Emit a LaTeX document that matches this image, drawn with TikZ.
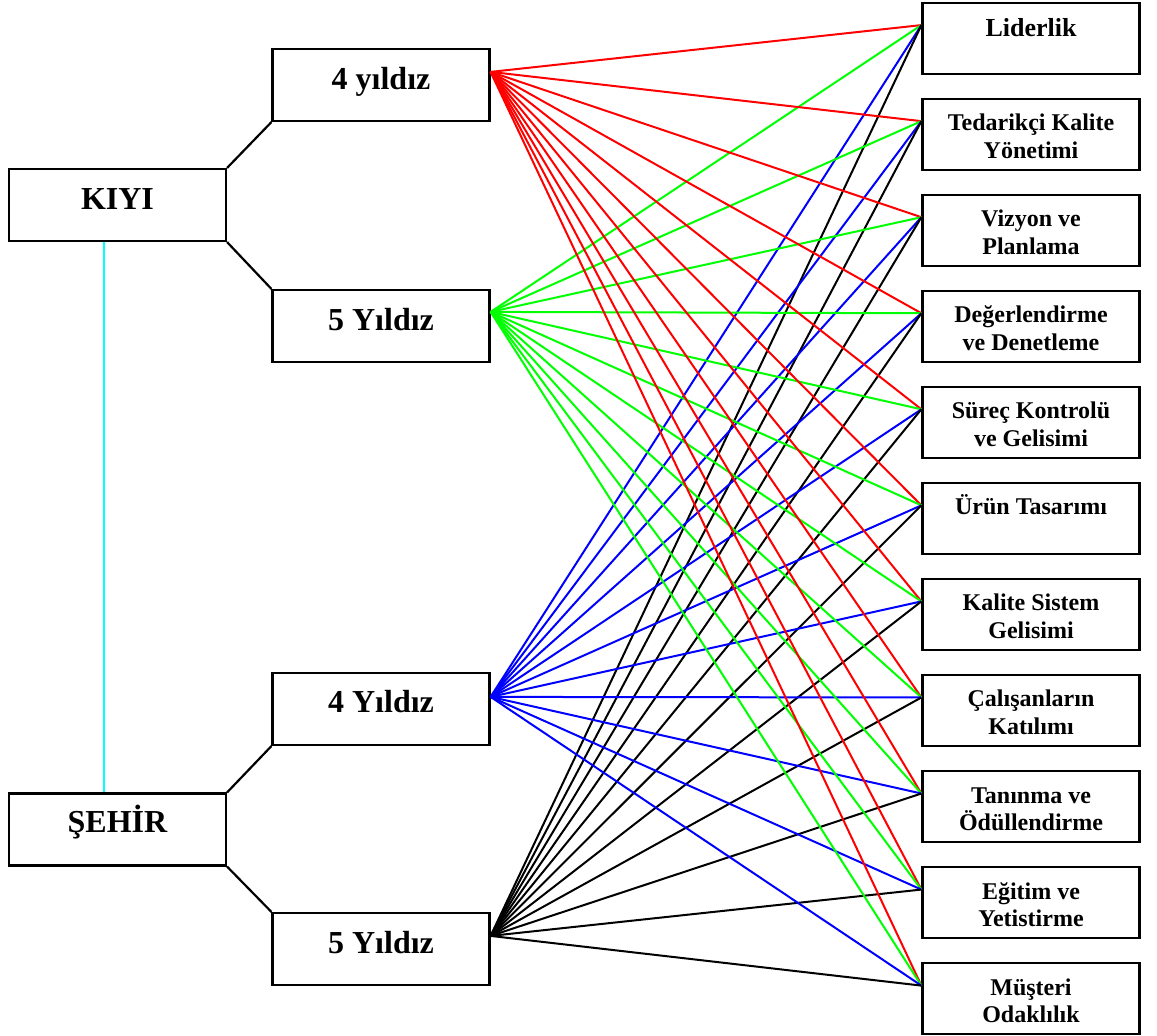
\documentclass[tikz,border=0pt]{standalone}
\usepackage{fontspec}
\setmainfont{Liberation Serif}
\usetikzlibrary{calc}
\begin{document}
\begin{tikzpicture}[x=1pt,y=-1pt,
  box/.style={draw, line width=2.2pt, fill=white, inner sep=0pt,
              minimum width=217pt, minimum height=72pt},
  rbox/.style={box, minimum height=71pt},
  big/.style={anchor=base, inner sep=0pt, font=\fontsize{32}{36}\selectfont\bfseries},
  mid/.style={anchor=base, inner sep=0pt, font=\fontsize{26}{30}\selectfont\bfseries},
  small/.style={anchor=base, inner sep=0pt, font=\fontsize{24}{28}\selectfont\bfseries},
  tie/.style={line width=2.2pt, black},
  link/.style={line width=2pt}]
\useasboundingbox (0,0) rectangle (1157,1036);

% colours of the four fans
\definecolor{fanred}{RGB}{255,0,0}
\definecolor{fangreen}{RGB}{0,255,0}
\definecolor{fanblue}{RGB}{0,0,255}
\definecolor{linkcyan}{RGB}{0,255,255}

% left column
\node[box] (kiyi)  at (117.5,205)   {};
\node[box] (sehir) at (117.5,829.5) {};

% middle column
\node[box] (m1) at (381,85)  {};
\node[box] (m2) at (381,326) {};
\node[box] (m3) at (381,709) {};
\node[box] (m4) at (381,949) {};

% right column
\foreach \i in {0,...,10}{
  \node[rbox] (r\i) at (1031,{38.2+96.05*\i}) {};
  \coordinate (ri\i) at ($(r\i.north west)+(0,23.5)$);
}

% fan start points
\coordinate (o1) at ($(m1.north east)+(0,24)$);
\coordinate (o2) at ($(m2.north east)+(0,23)$);
\coordinate (o3) at ($(m3.north east)+(0,25)$);
\coordinate (o4) at ($(m4.north east)+(0,24)$);

% tree connectors
\draw[tie] (kiyi.north east) -- (m1.south west);
\draw[tie] (kiyi.south east) -- (m2.north west);
\draw[tie] (sehir.north east) -- (m3.south west);
\draw[tie] (sehir.south east) -- (m4.north west);
\coordinate (c1) at ($(kiyi.south west)+(96,0)$);
\coordinate (c2) at ($(sehir.north west)+(96,0)$);
\draw[line width=2pt, linkcyan] (c1) -- (c2);

% fans
\foreach \i in {0,...,10}{
  \draw[link, fanred]   (o1) -- (ri\i);
  \draw[link, fangreen] (o2) -- (ri\i);
  \draw[link, fanblue]  (o3) -- (ri\i);
  \draw[link, black]    (o4) -- (ri\i);
}

% labels, left and middle
\node[big] (tk) at ($(kiyi.north)+(0,41.5)$)  {KIYI};
\node[big] (ts) at ($(sehir.north)+(0,40.5)$) {ŞEHİR};
\node[big] (t1) at ($(m1.north)+(0,41.5)$) {4 yıldız};
\node[big] (t2) at ($(m2.north)+(0,41.5)$) {5 Yıldız};
\node[big] (t3) at ($(m3.north)+(0,40.5)$) {4 Yıldız};
\node[big] (t4) at ($(m4.north)+(0,41.5)$) {5 Yıldız};

% labels, right
\node[mid]   (l0a)  at ($(r0.north)+(0,35)$)   {Liderlik};
\node[small] (l1a)  at ($(r1.north)+(0,33)$)   {Tedarikçi Kalite};
\node[small] (l1b)  at ($(r1.north)+(0,60.5)$) {Yönetimi};
\node[small] (l2a)  at ($(r2.north)+(0,33)$)   {Vizyon ve};
\node[small] (l2b)  at ($(r2.north)+(0,60.5)$) {Planlama};
\node[small] (l3a)  at ($(r3.north)+(0,33)$)   {Değerlendirme};
\node[small] (l3b)  at ($(r3.north)+(0,60.5)$) {ve Denetleme};
\node[small] (l4a)  at ($(r4.north)+(0,33)$)   {Süreç Kontrolü};
\node[small] (l4b)  at ($(r4.north)+(0,60.5)$) {ve Gelisimi};
\node[small] (l5a)  at ($(r5.north)+(0,33)$)   {Ürün Tasarımı};
\node[small] (l6a)  at ($(r6.north)+(0,33)$)   {Kalite Sistem};
\node[small] (l6b)  at ($(r6.north)+(0,60.5)$) {Gelisimi};
\node[small] (l7a)  at ($(r7.north)+(0,33)$)   {Çalışanların};
\node[small] (l7b)  at ($(r7.north)+(0,60.5)$) {Katılımı};
\node[small] (l8a)  at ($(r8.north)+(0,33)$)   {Tanınma ve};
\node[small] (l8b)  at ($(r8.north)+(0,60.5)$) {Ödüllendirme};
\node[small] (l9a)  at ($(r9.north)+(0,33)$)   {Eğitim ve};
\node[small] (l9b)  at ($(r9.north)+(0,60.5)$) {Yetistirme};
\node[small] (l10a) at ($(r10.north)+(0,33)$)   {Müşteri};
\node[small] (l10b) at ($(r10.north)+(0,60.5)$) {Odaklılık};
\end{tikzpicture}
\end{document}
